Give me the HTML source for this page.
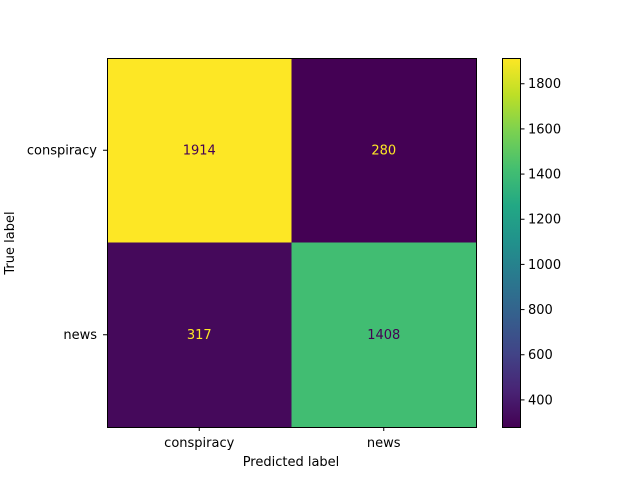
<!DOCTYPE html>
<html><head><meta charset="utf-8"><style>
html,body{margin:0;padding:0;background:#fff;}
svg text{font-family:"DejaVu Sans","Liberation Sans",sans-serif;font-size:13px;}
</style></head><body>
<svg id="chart" width="640" height="480" viewBox="0 0 640 480">
<defs>
<linearGradient id="viridis" x1="0" y1="1" x2="0" y2="0">
<stop offset="0" stop-color="#440154"/><stop offset="0.1" stop-color="#482475"/>
<stop offset="0.2" stop-color="#414487"/><stop offset="0.3" stop-color="#355f8d"/>
<stop offset="0.4" stop-color="#2a788e"/><stop offset="0.5" stop-color="#21918c"/>
<stop offset="0.6" stop-color="#22a884"/><stop offset="0.7" stop-color="#44bf70"/>
<stop offset="0.8" stop-color="#7ad151"/><stop offset="0.9" stop-color="#bddf26"/>
<stop offset="1" stop-color="#fde725"/>
</linearGradient>
</defs>
<g id="cells"></g>
<rect x="107.5" y="58.5" width="369" height="369" fill="none" stroke="#000" stroke-width="1"/>
<g id="axes"></g>
<text x="291" y="466" text-anchor="middle">Predicted label</text>
<text transform="translate(14,243) rotate(-90)" text-anchor="middle">True label</text>
<rect x="502" y="58" width="18" height="369" fill="url(#viridis)"/>
<rect x="502.5" y="58.5" width="18" height="369" fill="none" stroke="#000" stroke-width="1"/>
<g id="cbticks"></g>
</svg>
<script>
const labels = ["conspiracy", "news"];
const matrix = [[1914, 280], [317, 1408]];
const cbTicks = [400, 600, 800, 1000, 1200, 1400, 1600, 1800];

const NS = "http://www.w3.org/2000/svg";
const vir = ["#440154","#482475","#414487","#355f8d","#2a788e","#21918c","#22a884","#44bf70","#7ad151","#bddf26","#fde725"];
function hex(h){return [1,3,5].map(i=>parseInt(h.substr(i,2),16));}
function cmap(t){t=Math.max(0,Math.min(1,t));const p=t*10,i=Math.min(9,Math.floor(p)),f=p-i;const a=hex(vir[i]),b=hex(vir[i+1]);return "rgb("+a.map((v,k)=>Math.round(v+(b[k]-v)*f)).join(",")+")";}
const flat = matrix.flat();
const vmin = Math.min(...flat), vmax = Math.max(...flat);
const X0=107, Y0=58, S=369, n=labels.length, cw=S/n;
function mk(tag, attrs, parent){const e=document.createElementNS(NS,tag);for(const k in attrs)e.setAttribute(k,attrs[k]);parent.appendChild(e);return e;}
const cells=document.getElementById("cells"), axes=document.getElementById("axes"), cb=document.getElementById("cbticks");
for(let r=0;r<n;r++)for(let c=0;c<n;c++){
  const v=matrix[r][c], t=(v-vmin)/(vmax-vmin);
  const rc=mk("rect",{x:X0+c*cw,y:Y0+r*cw,width:cw+0.5,height:cw+0.5,fill:cmap(t)},cells);
  
  
  const tx=mk("text",{x:X0+(c+0.5)*cw,y:Y0+(r+0.5)*cw+4,"text-anchor":"middle",fill:t>0.5?"#440154":"#fde725"},cells);
  tx.textContent=v;
  
  
}
labels.forEach((l,i)=>{
  const cx=X0+(i+0.5)*cw;
  mk("line",{x1:cx,y1:Y0+S,x2:cx,y2:Y0+S+4,stroke:"#000"},axes);
  const tx=mk("text",{x:cx,y:Y0+S+20,"text-anchor":"middle"},axes);
  tx.textContent=l;
  
  
  const cy=Y0+(i+0.5)*cw;
  mk("line",{x1:X0-4,y1:cy,x2:X0,y2:cy,stroke:"#000"},axes);
  const ty=mk("text",{x:X0-10,y:cy+4,"text-anchor":"end"},axes);
  ty.textContent=l;
  
  
});
cbTicks.forEach(v=>{
  const y=Y0+S-(v-vmin)/(vmax-vmin)*S;
  mk("line",{x1:520.5,y1:y,x2:524.5,y2:y,stroke:"#000"},cb);
  const t=mk("text",{x:528,y:y+4.5},cb);
  t.textContent=v;
  
  
});
</script>
</body></html>
